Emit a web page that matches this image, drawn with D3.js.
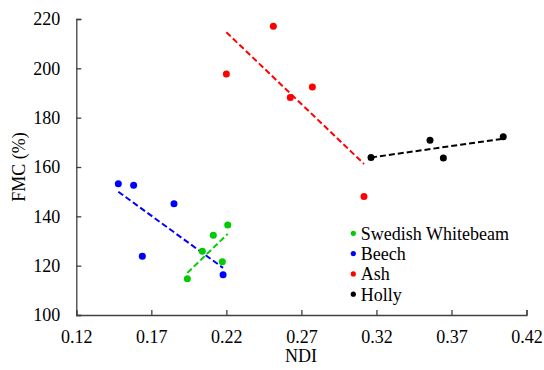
<!DOCTYPE html>
<html>
<head>
<meta charset="utf-8">
<script src="https://cdn.jsdelivr.net/npm/d3@7"></script>
<style>
  body { margin: 0; background: #fff; }
  text { font-family: "Liberation Serif", "Times New Roman", serif; fill: #000; }
</style>
</head>
<body>
<script>
//-----------------Data----------------

const speciesNames = ["Swedish Whitebeam", "Beech", "Ash", "Holly"];
const speciesColors = ["#00CC00", "#0000FF", "#FF0000", "#000000"];

const whitebeamNDI = [0.194, 0.204, 0.2113, 0.2173, 0.2209];
const whitebeamFMC = [114.7, 125.8, 132.3, 121.6, 136.5];

const beechNDI = [0.148, 0.1582, 0.164, 0.1851, 0.2178];
const beechFMC = [153.2, 152.6, 123.8, 145.1, 116.3];

const ashNDI = [0.22, 0.2513, 0.2626, 0.2773, 0.3117];
const ashFMC = [197.7, 217.1, 188.2, 192.4, 148.0];

const hollyNDI = [0.3164, 0.3557, 0.3646, 0.4045];
const hollyFMC = [163.9, 170.8, 163.6, 172.3];

const xTicks = [0.12, 0.17, 0.22, 0.27, 0.32, 0.37, 0.42];
const yTicks = [100, 120, 140, 160, 180, 200, 220];

//-----------------SVG----------------

const width = 544;
const height = 370;
const margin = { left: 76.3, right: 17.5, top: 19, bottom: 55 };

const svg = d3.select("body").append("svg").attr("width", width).attr("height", height);

const xScale = d3.scaleLinear().domain([0.12, 0.42]).range([margin.left, width - margin.right]);
const yScale = d3.scaleLinear().domain([100, 220]).range([height - margin.bottom, margin.top]);

const series = [
  { x: whitebeamNDI, y: whitebeamFMC },
  { x: beechNDI, y: beechFMC },
  { x: ashNDI, y: ashFMC },
  { x: hollyNDI, y: hollyFMC }
].map((s, i) => ({
  name: speciesNames[i],
  color: speciesColors[i],
  points: s.x.map((v, j) => ({ x: v, y: s.y[j] }))
}));

//-----------------Axes----------------

const axisColor = "#404040";

const xAxis = d3.axisBottom(xScale).tickValues(xTicks).tickSize(-5).tickFormat(d3.format(".2f"));
const gx = svg.append("g")
  .attr("transform", "translate(0," + yScale(100) + ")")
  .call(xAxis);
gx.select(".domain").attr("stroke", axisColor).attr("stroke-width", 1.3);
gx.selectAll(".tick line").attr("stroke", axisColor).attr("stroke-width", 1.3);
gx.selectAll(".tick text")
  .attr("y", 22)
  .attr("dy", "0.32em")
  .style("font-size", "18px")
  .style("font-family", "Liberation Serif");

const yAxis = d3.axisLeft(yScale).tickValues(yTicks).tickSize(-5);
const gy = svg.append("g")
  .attr("transform", "translate(" + xScale(0.12) + ",0)")
  .call(yAxis);
gy.select(".domain").attr("stroke", axisColor).attr("stroke-width", 1.3);
gy.selectAll(".tick line").attr("stroke", axisColor).attr("stroke-width", 1.3);
gy.selectAll(".tick text")
  .attr("x", -16)
  .style("font-size", "18px")
  .style("font-family", "Liberation Serif");

svg.append("text")
  .text("NDI")
  .attr("x", 301)
  .attr("y", 356)
  .attr("dy", "0.35em")
  .style("font-size", "18px")
  .style("text-anchor", "middle");

svg.append("text")
  .text("FMC (%)")
  .attr("transform", "translate(19,167) rotate(-90)")
  .attr("dy", "0.35em")
  .style("font-size", "18px")
  .style("text-anchor", "middle");

//-----------------Trendlines----------------

function fit(points) {
  const mx = d3.mean(points, (d) => d.x);
  const my = d3.mean(points, (d) => d.y);
  const sxy = d3.sum(points, (d) => (d.x - mx) * (d.y - my));
  const sxx = d3.sum(points, (d) => (d.x - mx) * (d.x - mx));
  const slope = sxy / sxx;
  const [x0, x1] = d3.extent(points, (d) => d.x);
  return [
    { x: x0, y: my + slope * (x0 - mx) },
    { x: x1, y: my + slope * (x1 - mx) }
  ];
}

const line = d3.line().x((d) => xScale(d.x)).y((d) => yScale(d.y));

series.forEach((s) => {
  svg.append("path")
    .attr("d", line(fit(s.points)))
    .attr("fill", "none")
    .attr("stroke", s.color)
    .attr("stroke-width", 2)
    .attr("stroke-dasharray", "6,3");
});

//-----------------Points----------------

series.forEach((s) => {
  svg.append("g")
    .selectAll("circle")
    .data(s.points)
    .enter()
    .append("circle")
    .attr("cx", (d) => xScale(d.x))
    .attr("cy", (d) => yScale(d.y))
    .attr("r", 3.5)
    .style("fill", s.color);
});

//-----------------Legend----------------

const legend = svg.append("g");
series.forEach((s, i) => {
  const row = legend.append("g").attr("transform", "translate(353.3," + (233.3 + i * 20.3) + ")");
  row.append("circle").attr("r", 2.6).style("fill", s.color);
  row.append("text")
    .text(s.name)
    .attr("x", 7.5)
    .attr("dy", "0.35em")
    .style("font-size", "18px");
});
</script>
</body>
</html>
